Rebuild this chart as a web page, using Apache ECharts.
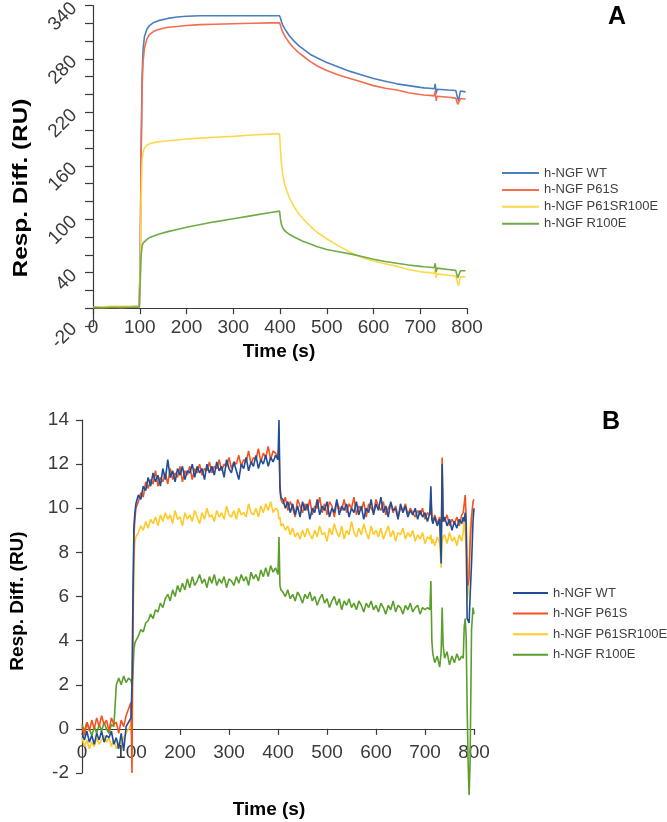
<!DOCTYPE html>
<html><head><meta charset="utf-8">
<script src="https://cdn.jsdelivr.net/npm/echarts@6/dist/echarts.min.js"></script>
<style>
html,body{margin:0;padding:0;background:#fff;}
#a{position:absolute;left:0;top:0;width:667px;height:380px;}
#b{position:absolute;left:0;top:380px;width:667px;height:442px;}
</style>
</head><body><div id="a"></div><div id="b"></div>
<script>
// ---------- Chart A data ----------
const seriesNames = ['h-NGF WT', 'h-NGF P61S', 'h-NGF P61SR100E', 'h-NGF R100E'];
const xTicks = [0, 100, 200, 300, 400, 500, 600, 700, 800];
const yLabelsA = [-20, 40, 100, 160, 220, 280, 340];
const yLabelsB = [-2, 0, 2, 4, 6, 8, 10, 12, 14];

const timeA = [0,20,40,60,80,99,101,103,105,107,110,115,120,130,140,160,180,200,230,260,300,340,380,399,
  401,403,406,410,415,420,430,440,450,465,480,500,525,550,575,600,625,650,675,700,
  708,710,712,720,730,732,734,736,740,760,776,778,780,782,784,786,790,797];
const wtA = [1,1,1.5,1,1.5,2,60,180,260,290,305,313,317,321,323,325.5,327,328,328.5,328.5,328.5,328.5,328.5,328.5,
  326,322,318,314,310,306,300,295,291,285,281,276,271,266,262,258,255,252,250,248,
  247.5,249.5,247.5,247,246.5,252,241,246,246,245,244.5,244,236,233,234,244,243.5,243];
const p61sA = [0.5,0.5,1,0.5,1,1.5,55,170,248,276,292,302,307,311,313,315.5,316.5,317.5,318.5,319,319.5,320,320.5,320.5,
  318,314,310,306,302,298,292,287,283,277,272,267,262,258,254,250,247,245,242,240,
  239.5,241.5,239.5,239,238.5,244,233,238,238,237,236,235.5,229,227,228,235.5,235,235];
const p61sr100eA = [1,1.5,2,2,2,2,40,120,165,175,180,183,184.5,186,187,188,189,190,191,192,193,194.5,195.5,196,
  178,163,150,139,131,124,114,106,100,92,85,78,70,63,57,53,50,47,43.5,41,
  40.5,42.5,40.5,40,39,44,34,38.5,38,37,36,36,28,25,26,35.5,35,35];
const r100eA = [1,0.5,1,1,1,1.5,30,60,70,73,75,77,79,81,83,86,88.5,91,94,97,100.5,104,107.5,109,
  100,94,90,87,85,83,80,77.5,75,72,69,66,63.5,61,58,55,52.5,50.5,48.5,47,
  46.5,48.5,46.5,46,45.5,50.5,40.5,45,44.5,43.5,42.5,42,34,32,33,42,42,42];

// ---------- Chart B data ----------
const timeB = [0,5,10,15,20,25,30,35,40,45,50,55,60,65,70,75,80,85,90,95,
  100,102,104,106,108,110,
  115,120,125,130,135,140,145,150,155,160,165,170,175,180,185,190,195,200,205,210,215,220,225,230,235,240,245,250,255,260,265,270,275,280,285,290,295,300,305,310,315,320,325,330,335,340,345,350,355,360,365,370,375,380,385,390,395,
  400,402,404,406,
  410,415,420,425,430,435,440,445,450,455,460,465,470,475,480,485,490,495,500,505,510,515,520,525,530,535,540,545,550,555,560,565,570,575,580,585,590,595,600,605,610,615,620,625,630,635,640,645,650,655,660,665,670,675,680,685,690,695,700,705,
  710,712,714,716,
  720,725,730,
  733,735,737,
  740,745,750,755,760,765,770,775,
  778,780,782,784,786,788,790,792,795,798,800];
const wtB = [-0.2,-0.5,-0.1,-0.6,-0.3,-0.7,-0.2,-0.5,-0.1,-0.6,-0.3,-0.4,-0.1,-0.7,-0.4,-0.9,-0.2,-1.0,0.1,0.3,
  0.5,2.0,6.0,9.2,9.8,10.2,
  10.6,10.4,11.0,10.8,11.4,11.0,11.6,11.2,11.5,11.0,
  11.8,11.3,12.2,11.4,11.7,11.2,11.8,11.5,11.9,11.3,
  11.7,11.6,12.0,11.4,11.9,11.6,11.8,11.3,12.0,11.6,
  11.9,11.5,12.1,11.7,11.9,11.4,12.2,11.8,11.6,12.1,
  11.7,11.3,12.0,11.8,12.3,11.7,12.1,11.9,12.4,11.8,
  12.2,12.0,12.4,11.9,12.3,12.1,12.4,
  12.2,14.0,11.0,10.5,
  10.4,10.0,10.3,9.8,10.2,9.7,10.1,9.6,10.3,9.9,
  10.2,9.5,10.0,9.8,10.4,9.7,10.1,9.9,10.3,9.6,
  10.0,9.8,10.4,9.7,10.1,9.9,10.2,9.6,10.0,9.8,
  10.3,9.7,10.1,9.5,10.0,9.8,10.4,9.7,10.2,9.9,
  10.5,9.8,10.1,9.6,10.3,9.9,10.0,9.5,10.2,9.8,
  10.1,9.6,9.9,9.7,10.0,9.5,9.9,9.6,9.8,9.4,
  9.8,11.0,9.5,9.3,
  9.6,9.2,9.5,
  7.5,12.0,9.4,
  9.6,9.2,9.5,9.0,9.4,9.1,9.5,9.3,
  9.6,9.4,9.8,9.3,5.0,4.9,4.8,6.0,7.5,9.4,10.0];
const p61sB = [0.1,-0.3,0.3,-0.1,0.4,0.0,0.5,0.1,0.6,0.2,0.4,-0.1,0.5,0.2,0.3,-0.2,0.4,0.1,0.6,0.9,
  1.2,-2.0,5.0,8.8,9.5,10.0,
  10.3,10.7,10.5,11.2,10.9,11.3,11.1,11.7,11.0,11.4,
  11.2,11.6,11.1,11.8,11.3,11.6,11.4,11.9,11.2,11.7,
  11.5,11.9,11.3,11.8,11.6,12.0,11.5,11.8,11.7,12.1,
  11.6,11.9,11.8,12.2,11.7,12.0,11.9,12.3,11.8,12.1,
  12.0,12.4,11.9,12.2,12.1,12.6,12.0,12.3,12.2,12.7,
  12.1,12.5,12.3,12.8,12.2,12.6,12.5,
  12.3,12.9,10.8,10.4,
  10.2,10.5,9.9,10.3,10.0,9.6,10.4,10.1,9.8,10.2,
  9.9,10.4,9.7,10.1,10.0,10.5,9.8,10.2,9.7,10.3,
  10.1,9.6,10.3,10.0,9.9,10.4,9.8,10.2,10.0,10.5,
  9.7,10.1,9.9,10.3,9.6,10.2,10.0,9.8,10.4,10.1,
  9.9,10.3,9.7,10.0,10.2,9.8,10.1,9.6,10.0,9.9,
  10.2,9.7,10.0,9.8,9.6,9.9,9.7,10.0,9.5,9.8,
  9.7,10.5,9.6,9.4,
  9.7,9.3,9.6,
  8.0,12.3,9.5,
  9.4,9.7,9.2,9.5,9.3,9.6,9.2,9.7,
  9.8,10.2,10.6,9.6,6.7,6.5,6.9,8.3,9.6,10.3,10.4];
const p61sr100eB = [-0.4,-0.8,-0.5,-0.9,-0.6,-0.8,-0.4,-0.7,-0.5,-0.3,-0.6,-0.4,-0.8,-0.5,-0.9,-0.6,-0.7,-0.4,-0.2,0.0,
  0.2,0.5,4.0,7.8,8.5,8.7,
  8.9,9.2,9.0,9.4,9.1,9.5,9.3,9.6,9.2,9.7,
  9.4,9.8,9.5,9.7,9.3,9.9,9.5,9.6,9.2,9.8,
  9.5,9.7,9.4,9.9,9.6,9.3,9.8,9.5,10.0,9.6,
  9.7,9.4,9.9,9.6,9.8,9.5,10.1,9.7,9.6,9.9,
  9.5,10.0,9.7,9.8,9.6,10.2,9.8,9.7,10.0,9.6,
  10.1,9.8,10.2,9.9,10.3,9.8,10.0,
  9.9,9.5,9.6,9.2,
  9.3,9.0,9.2,8.8,9.1,8.7,8.9,8.6,9.0,8.7,
  9.1,8.8,8.6,9.0,8.7,9.2,8.8,8.9,8.5,9.1,
  8.8,9.3,8.9,8.7,9.2,8.6,9.0,8.8,9.4,8.9,
  8.7,9.1,8.8,9.3,8.9,8.6,9.2,8.8,9.0,8.7,
  9.1,8.6,8.9,9.2,8.7,9.0,8.5,8.9,8.8,9.1,
  8.6,8.9,8.7,9.0,8.5,8.8,8.6,8.9,8.4,8.7,
  8.6,8.8,8.4,8.6,
  8.3,8.7,8.4,
  7.3,8.5,8.7,
  8.8,8.4,8.9,8.5,8.7,8.3,8.8,8.5,
  8.9,9.6,9.0,8.0,5.8,6.2,7.5,9.0,9.6,9.8,9.9];
const r100eB = [0.2,-0.1,0.3,0.0,-0.3,0.1,-0.2,0.2,-0.1,0.3,0.0,-0.2,0.2,0.1,2.0,2.3,2.0,2.4,2.1,2.3,
  2.2,2.0,2.5,3.6,3.9,4.0,
  4.2,4.5,4.4,4.8,4.9,5.2,5.0,5.4,5.3,5.7,
  5.5,5.9,6.1,5.8,6.3,6.0,6.5,6.2,6.6,6.3,
  6.8,6.4,6.9,6.5,6.7,7.0,6.6,6.8,6.4,6.9,
  6.6,7.0,6.5,6.8,6.6,6.9,6.4,6.8,6.7,6.5,
  6.9,6.6,7.0,6.7,6.9,6.5,7.1,6.8,7.0,6.7,
  7.2,6.9,7.3,6.9,7.4,7.1,7.3,
  7.0,8.7,6.5,6.3,
  6.2,6.0,6.3,5.9,6.1,5.8,6.2,6.0,5.7,6.1,
  5.9,6.2,5.8,6.0,5.6,5.9,6.1,5.7,5.9,5.5,
  5.8,6.0,5.6,5.9,5.4,5.8,5.6,5.9,5.5,5.7,
  5.4,5.8,5.6,5.3,5.7,5.5,5.8,5.4,5.6,5.3,
  5.7,5.5,5.2,5.6,5.4,5.8,5.3,5.6,5.5,5.2,
  5.6,5.4,5.7,5.3,5.5,5.6,5.2,5.5,5.4,5.5,
  5.4,6.7,4.0,3.4,
  3.0,3.3,2.8,
  3.5,5.5,3.8,
  3.2,3.5,2.9,3.3,3.0,3.4,3.1,3.3,
  3.2,4.6,5.0,4.2,1.0,-1.5,-3.0,-1.5,4.5,5.5,5.2];

// ---------- rendering ----------
const FONT = '"Liberation Sans", Arial, Helvetica, sans-serif';
const colorsA = ['#4a7ebf', '#f36d4f', '#ffd84a', '#6fab48'];
const colorsB = ['#1f4e96', '#f5511f', '#ffc928', '#5a9e2c'];
function pairs(times, vals) { return times.map((t, i) => [t, vals[i]]); }

function xAxisCfg(margin) {
  return {
    type: 'value', min: 0, max: 800, interval: 100,
    axisLine: { show: true, onZero: true, lineStyle: { color: '#3a3a3a', width: 1.2 } },
    axisTick: { show: true, length: 6, lineStyle: { color: '#3a3a3a', width: 1.2 } },
    axisLabel: { fontSize: 19, color: '#3a3a3a', margin: margin, fontFamily: FONT,
      formatter: v => xTicks.includes(v) ? String(v) : '' },
    splitLine: { show: false }
  };
}
function line(name, times, vals, color, w, extra) {
  return Object.assign({
    type: 'line', name: name, data: pairs(times, vals), symbol: 'none', showSymbol: false,
    lineStyle: { color: color, width: w }, itemStyle: { color: color }, animation: false
  }, extra || {});
}
function legendCfg(left, top, w, gap) {
  return {
    orient: 'vertical', left: left, top: top, padding: 0,
    icon: 'rect', itemWidth: w, itemHeight: 2, itemGap: gap,
    data: seriesNames,
    textStyle: { fontSize: 13, lineHeight: 14, color: '#404040', fontFamily: FONT }
  };
}

const chartA = echarts.init(document.getElementById('a'), null, { renderer: 'canvas' });
chartA.setOption({
  animation: false,
  grid: { left: 93, top: 5.5, width: 374, height: 320.5, outerBoundsMode: 'none', containLabel: false },
  xAxis: xAxisCfg(-8),
  yAxis: {
    type: 'value', min: -20, max: 340, interval: 20,
    axisLine: { show: true, onZero: false, lineStyle: { color: '#3a3a3a', width: 1.2 } },
    axisTick: { show: true, length: 8, lineStyle: { color: '#3a3a3a', width: 1.2 } },
    axisLabel: { rotate: 45, fontSize: 19, color: '#3a3a3a', margin: 19, fontFamily: FONT,
      formatter: v => yLabelsA.includes(v) ? String(v) : '' },
    splitLine: { show: false }
  },
  legend: legendCfg(502, 166, 37, 2.9),
  series: [
    line(seriesNames[0], timeA, wtA, colorsA[0], 1.6),
    line(seriesNames[1], timeA, p61sA, colorsA[1], 1.6),
    line(seriesNames[2], timeA, p61sr100eA, colorsA[2], 1.6),
    line(seriesNames[3], timeA, r100eA, colorsA[3], 1.6)
  ],
  graphic: [
    { type: 'text', x: 21, y: 188, rotation: Math.PI / 2, scaleX: 1.22,
      style: { text: 'Resp. Diff. (RU)', fontSize: 20, fontWeight: 'bold', fontFamily: FONT, fill: '#000', align: 'center', verticalAlign: 'middle' } },
    { type: 'text', x: 279, y: 352,
      style: { text: 'Time (s)', fontSize: 19, fontWeight: 'bold', fontFamily: FONT, fill: '#000', align: 'center', verticalAlign: 'middle' } },
    { type: 'text', x: 617, y: 17,
      style: { text: 'A', fontSize: 25, fontWeight: 'bold', fontFamily: FONT, fill: '#000', align: 'center', verticalAlign: 'middle' } }
  ]
});

const chartB = echarts.init(document.getElementById('b'), null, { renderer: 'canvas' });
chartB.setOption({
  animation: false,
  grid: { left: 82, top: 40, width: 392, height: 353, outerBoundsMode: 'none', containLabel: false },
  xAxis: xAxisCfg(-30),
  yAxis: {
    type: 'value', min: -2, max: 14, interval: 2,
    axisLine: { show: true, onZero: false, lineStyle: { color: '#3a3a3a', width: 1.2 } },
    axisTick: { show: true, length: 6, lineStyle: { color: '#3a3a3a', width: 1.2 } },
    axisLabel: { fontSize: 19, color: '#3a3a3a', margin: 13, fontFamily: FONT,
      formatter: v => yLabelsB.includes(v) ? String(v) : '' },
    splitLine: { show: false }
  },
  legend: legendCfg(513, 206, 35, 6.6),
  series: [
    line(seriesNames[2], timeB, p61sr100eB, colorsB[2], 1.6, { z: 2 }),
    line(seriesNames[3], timeB, r100eB, colorsB[3], 1.6, { z: 2, clip: false }),
    line(seriesNames[1], timeB, p61sB, colorsB[1], 1.6, { z: 3 }),
    line(seriesNames[0], timeB, wtB, colorsB[0], 1.6, { z: 4 })
  ],
  graphic: [
    { type: 'text', x: 18, y: 221, rotation: Math.PI / 2,
      style: { text: 'Resp. Diff. (RU)', fontSize: 19, fontWeight: 'bold', fontFamily: FONT, fill: '#000', align: 'center', verticalAlign: 'middle' } },
    { type: 'text', x: 269, y: 430,
      style: { text: 'Time (s)', fontSize: 19, fontWeight: 'bold', fontFamily: FONT, fill: '#000', align: 'center', verticalAlign: 'middle' } },
    { type: 'text', x: 611, y: 42,
      style: { text: 'B', fontSize: 25, fontWeight: 'bold', fontFamily: FONT, fill: '#000', align: 'center', verticalAlign: 'middle' } }
  ]
});
</script></body></html>
